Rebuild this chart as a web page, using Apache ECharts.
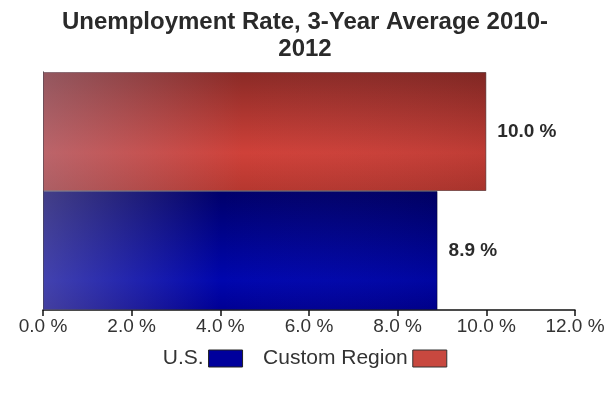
<!DOCTYPE html>
<html>
<head>
<meta charset="utf-8">
<script src="https://cdn.jsdelivr.net/npm/echarts@6/dist/echarts.min.js"></script>
<style>
  html, body { margin: 0; padding: 0; background: #fff; }
  #chart { width: 610px; height: 398px; }
</style>
</head>
<body>
<div id="chart"></div>
<script>
// Regions shown on the category axis (bottom to top)
const regions = ['U.S.', 'Custom Region'];
// Three-year average unemployment rate, percent
const usRate = [8.9, '-'];
const customRate = ['-', 10.0];
// Axis range for the value axis (percent)
const rateMin = 0;
const rateMax = 12;
const rateStep = 2;

const FONT = '"Liberation Sans", Arial, sans-serif';

const redFill = new echarts.graphic.LinearGradient(0, 0, 0, 1, [
  { offset: 0, color: '#8a2a26' },
  { offset: 0.68, color: '#cf4139' },
  { offset: 1, color: '#b5372f' }
]);
const blueFill = new echarts.graphic.LinearGradient(0, 0, 0, 1, [
  { offset: 0, color: '#00006a' },
  { offset: 0.75, color: '#0006ae' },
  { offset: 1, color: '#000094' }
]);
// Greyer wash on the left side of each bar
const sheen = new echarts.graphic.LinearGradient(0, 0, 1, 0, [
  { offset: 0, color: 'rgba(160,150,175,0.42)' },
  { offset: 0.45, color: 'rgba(160,150,175,0)' },
  { offset: 1, color: 'rgba(0,0,0,0.08)' }
]);

const labelStyle = {
  show: true,
  position: 'right',
  distance: 11,
  color: '#2a2a2a',
  fontFamily: FONT,
  fontSize: 19,
  fontWeight: 'bold',
  formatter: p => p.value.toFixed(1) + ' %'
};

const chart = echarts.init(document.getElementById('chart'));
chart.setOption({
  animation: false,
  title: {
    text: 'Unemployment Rate, 3-Year Average 2010-\n2012',
    left: 'center',
    top: 4,
    textStyle: { fontFamily: FONT, fontSize: 24, fontWeight: 'bold', color: '#2a2a2a', lineHeight: 27 }
  },
  legend: {
    top: 343,
    left: 'center',
    align: 'right',
    icon: 'rect',
    itemWidth: 34,
    itemHeight: 17,
    itemGap: 20,
    textStyle: { fontFamily: FONT, fontSize: 21, color: '#333' },
    data: [
      { name: 'U.S.', itemStyle: { color: '#00009c', borderColor: '#222', borderWidth: 1 } },
      { name: 'Custom Region', itemStyle: { color: '#c8483f', borderColor: '#333', borderWidth: 1 } }
    ]
  },
  grid: { left: 43, right: 35, top: 72, bottom: 88 },
  xAxis: {
    type: 'value',
    min: rateMin,
    max: rateMax,
    interval: rateStep,
    splitLine: { show: false },
    axisLine: { show: true, lineStyle: { color: '#111', width: 1.5 } },
    axisTick: { show: true, length: 6, lineStyle: { color: '#111', width: 1.5 } },
    axisLabel: {
      margin: 7,
      color: '#333',
      fontFamily: FONT,
      fontSize: 19,
      formatter: v => v.toFixed(1) + ' %'
    }
  },
  yAxis: {
    type: 'category',
    data: regions,
    axisLine: { show: true, lineStyle: { color: '#111', width: 1 } },
    axisTick: { show: false },
    axisLabel: { show: false }
  },
  series: [
    {
      name: 'U.S.',
      type: 'bar',
      data: usRate,
      barGap: '-100%',
      barCategoryGap: 0,
      itemStyle: { color: blueFill, borderColor: 'rgba(0,0,40,0.45)', borderWidth: 1 },
      label: labelStyle
    },
    {
      name: 'Custom Region',
      type: 'bar',
      data: customRate,
      barGap: '-100%',
      barCategoryGap: 0,
      itemStyle: { color: redFill, borderColor: 'rgba(60,20,20,0.5)', borderWidth: 1 },
      label: labelStyle
    },
    {
      name: 'sheen',
      type: 'bar',
      silent: true,
      data: [usRate[0], customRate[1]],
      barGap: '-100%',
      barCategoryGap: 0,
      itemStyle: { color: sheen }
    }
  ]
});
</script>
</body>
</html>
